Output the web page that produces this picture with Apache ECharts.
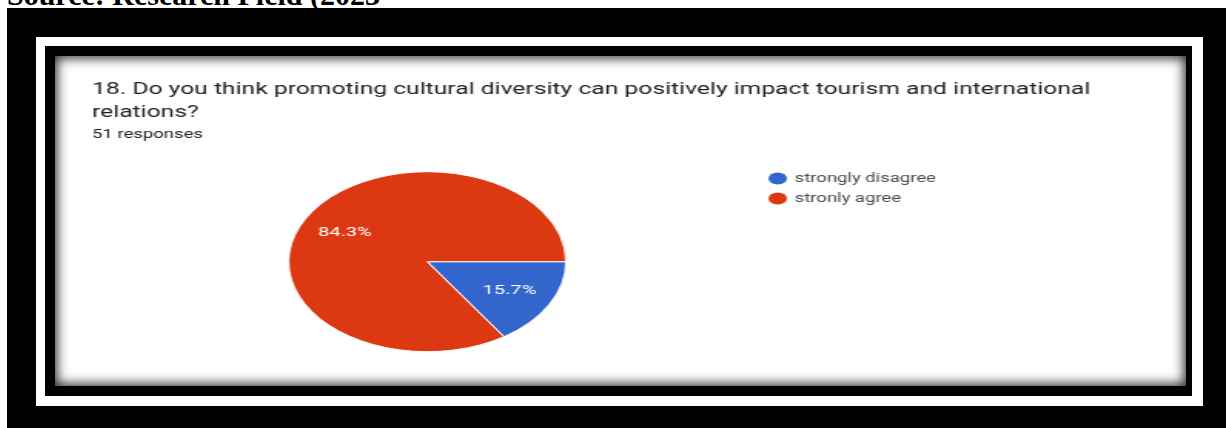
<!DOCTYPE html>
<html>
<head>
<meta charset="utf-8">
<script src="https://cdn.jsdelivr.net/npm/echarts@6/dist/echarts.min.js"></script>
<style>
  html, body { margin: 0; padding: 0; }
  body { width: 1226px; height: 428px; background: #000; position: relative; overflow: hidden; }
  .abs { position: absolute; }
  #topStrip { left: 0; top: 0; width: 1226px; height: 8px; background: #fff; overflow: hidden; }
  #source { position: absolute; left: 7px; top: -20px; font: bold 30px/30px "Liberation Serif", serif; color: #000; white-space: nowrap; }
  #leftStrip { left: 0; top: 0; width: 7px; height: 428px; background: #fff; }
  #outerFrame { left: 36px; top: 37px; width: 1167px; height: 369px; background: #fff; }
  #innerFrame { left: 45px; top: 46px; width: 1147px; height: 350px; background: #000; }
  #panel { left: 55px; top: 56px; width: 1131px; height: 330px; background: #fff; overflow: hidden; }
  #chart { position: absolute; left: 0; top: 0; width: 734px; height: 330px; transform: scaleX(1.5409); transform-origin: 0 0; }
  #shade { position: absolute; left: 0; top: 0; width: 1131px; height: 330px; box-shadow: inset 0 0 12px 2px rgba(0,0,0,0.85); pointer-events: none; }
</style>
</head>
<body>
<div id="topStrip" class="abs"><div id="source">Source: Research Field (2023</div></div>
<div id="leftStrip" class="abs"></div>
<div id="outerFrame" class="abs"></div>
<div id="innerFrame" class="abs"></div>
<div id="panel" class="abs">
  <div id="chart"></div>
  <div id="shade"></div>
</div>
<script>
// Survey question 18 — answer counts out of 51 responses
const questionTitle = '18. Do you think promoting cultural diversity can positively impact tourism and international\nrelations?';
const responseNote = '51 responses';
const answerNames = ['strongly disagree', 'stronly agree'];
const answerCounts = [8, 43];
const answerColors = ['#3366CC', '#DC3912'];

const pieRadius = 90;
const startAngle = 0;

// Push the in-slice percentage labels a bit further out from the centre
const total = answerCounts.reduce((a, b) => a + b, 0);
let cum = 0;
const pieData = answerNames.map((name, i) => {
  const mid = (cum + answerCounts[i] / 2) / total;
  cum += answerCounts[i];
  const theta = (startAngle - mid * 360) * Math.PI / 180;
  const push = pieRadius * 0.14;
  return {
    name,
    value: answerCounts[i],
    itemStyle: { color: answerColors[i] },
    label: { offset: [push * Math.cos(theta), -push * Math.sin(theta)] }
  };
});

const chart = echarts.init(document.getElementById('chart'), null, { renderer: 'canvas' });
chart.setOption({
  animation: false,
  title: {
    text: questionTitle,
    subtext: responseNote,
    left: 24,
    top: 22,
    padding: 0,
    itemGap: 4,
    textStyle: { fontFamily: 'Roboto', fontSize: 16, fontWeight: 'normal', color: '#202124', lineHeight: 23 },
    subtextStyle: { fontFamily: 'Roboto', fontSize: 12, color: '#202124', lineHeight: 14 }
  },
  legend: {
    orient: 'vertical',
    left: 463,
    top: 116,
    padding: 0,
    icon: 'circle',
    itemWidth: 12,
    itemHeight: 12,
    itemGap: 7,
    itemStyle: { borderWidth: 0 },
    data: answerNames,
    textStyle: { fontFamily: 'Roboto', fontSize: 12, color: '#4a4a4a', lineHeight: 13 }
  },
  series: [{
    type: 'pie',
    center: [241.6, 205.7],
    radius: pieRadius,
    startAngle: startAngle,
    clockwise: true,
    percentPrecision: 1,
    itemStyle: { borderColor: '#fff', borderWidth: 1 },
    label: {
      position: 'inside',
      formatter: '{d}%',
      fontFamily: 'Roboto',
      fontSize: 13,
      color: '#fff'
    },
    labelLine: { show: false },
    emphasis: { disabled: true },
    data: pieData
  }]
});
</script>
</body>
</html>
